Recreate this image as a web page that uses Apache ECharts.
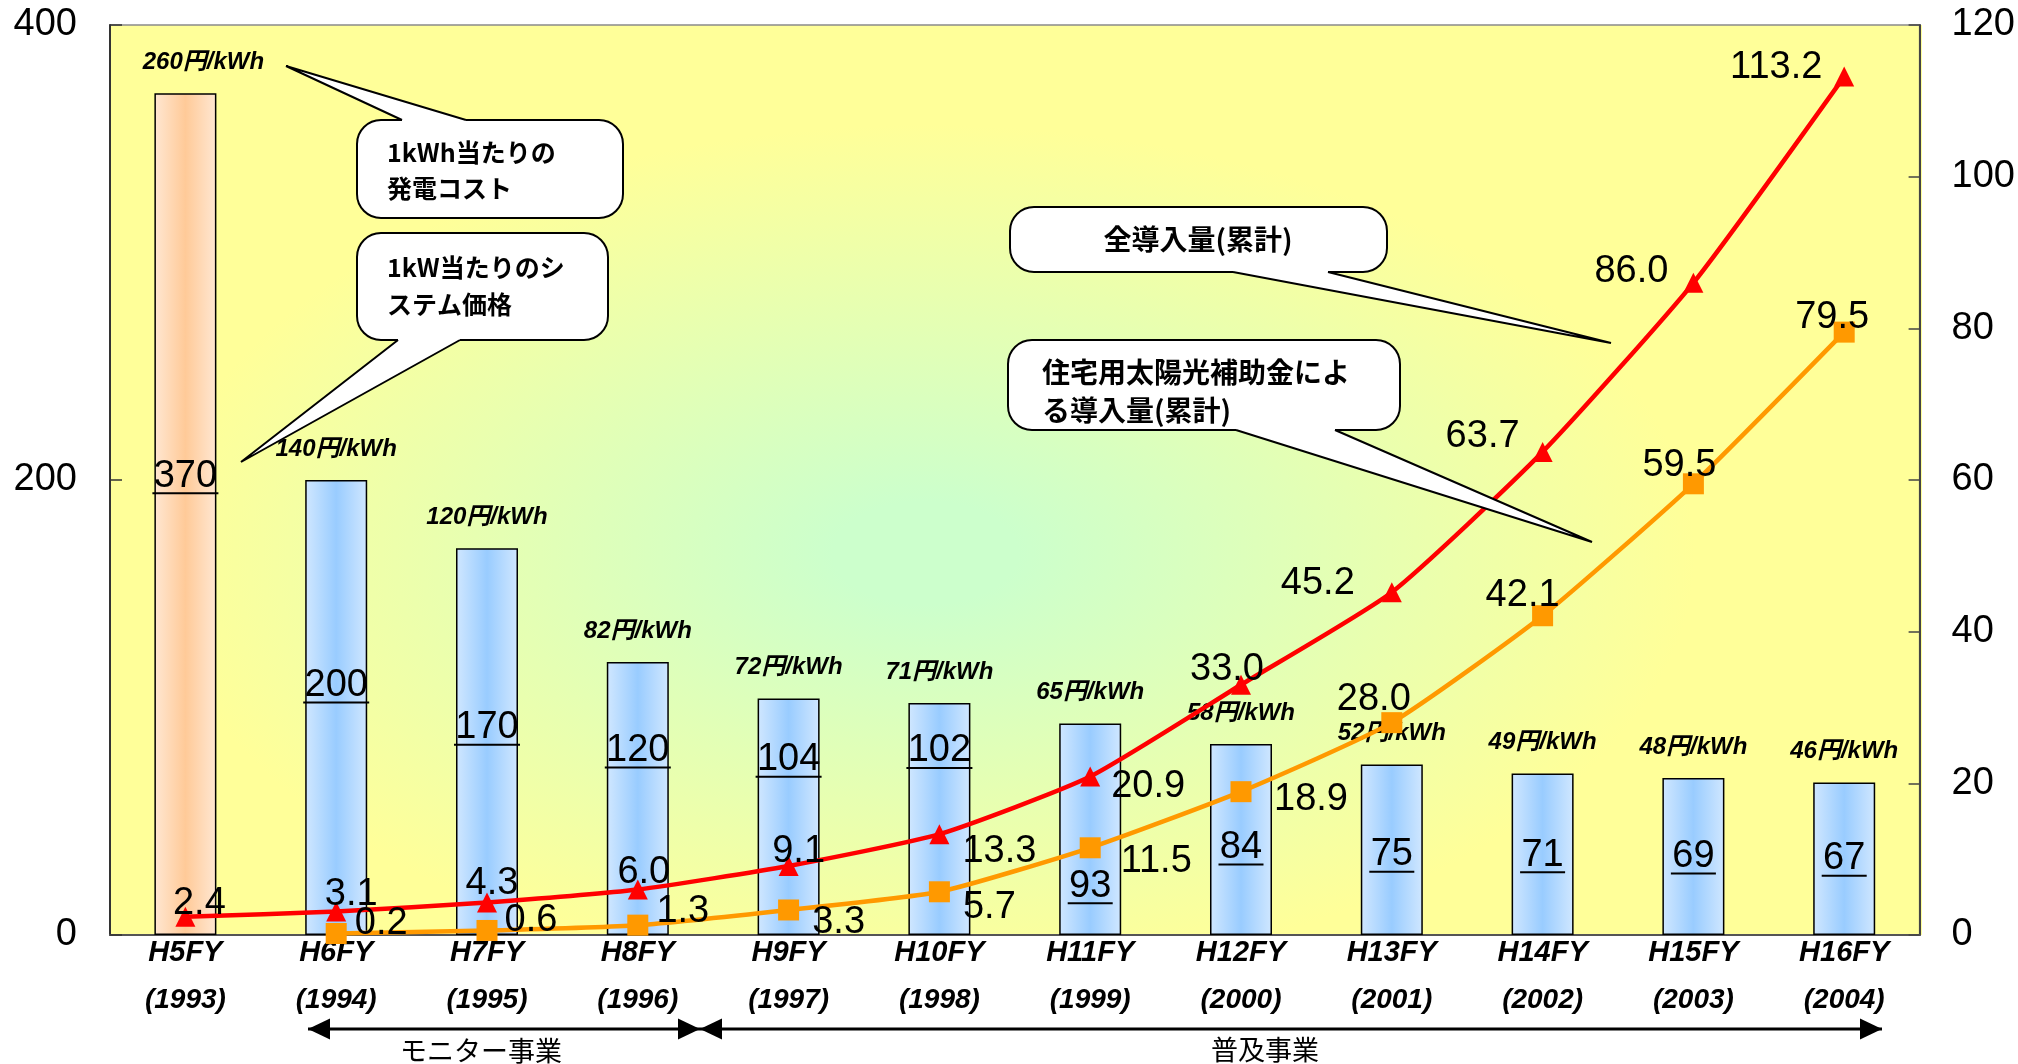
<!DOCTYPE html>
<html><head><meta charset="utf-8">
<script src="https://cdn.jsdelivr.net/npm/echarts@6/dist/echarts.min.js"></script>
<style>html,body{margin:0;padding:0;background:#fff}#c{width:2018px;height:1064px}</style>
</head><body><div id="c"></div>
<script>
// ---- data ----
const categories = ['H5FY','H6FY','H7FY','H8FY','H9FY','H10FY','H11FY','H12FY','H13FY','H14FY','H15FY','H16FY'];
const years = ['1993','1994','1995','1996','1997','1998','1999','2000','2001','2002','2003','2004'];
const systemPrice = [370,200,170,120,104,102,93,84,75,71,69,67];          // 1kW当たりのシステム価格
const generationCost = [260,140,120,82,72,71,65,58,52,49,48,46];          // 1kWh当たりの発電コスト (円/kWh)
const totalInstalled = [2.4,3.1,4.3,6.0,9.1,13.3,20.9,33.0,45.2,63.7,86.0,113.2]; // 全導入量(累計)
const subsidyInstalled = [null,0.2,0.6,1.3,3.3,5.7,11.5,18.9,28.0,42.1,59.5,79.5]; // 補助金による導入量(累計)
const leftAxis = {min:0, max:400, interval:200};
const rightAxis = {min:0, max:120, interval:20};

// ---- label placement (style only) ----
const priceLabelDy = [-37,-21,-13,-47,-56,-67,58,9,6,2,1,1];
const totalLabelOffset = [[14,-13],[15,-17],[5,-19],[6,-17],[10,-14],[60,17],[58,10],[-14,-15],[-74,-9],[-60,-15],[-62,-11],[-68,-9]];
const subsidyLabelOffset = [null,[45,-10],[44,-10],[45,-14],[50,13],[50,16],[66,14],[70,8],[-18,-23],[-20,-20],[-14,-18],[-12,-15]];

const NUM = '"Liberation Sans", Arial, sans-serif';
const JP = '"Noto Sans CJK JP", sans-serif';

const grid = {left:110, top:25, width:1812, height:910};

function hGrad(edge, mid){
  return {type:'linear', x:0, y:0, x2:1, y2:0, colorStops:[
    {offset:0, color:edge},{offset:0.5, color:mid},{offset:1, color:edge}]};
}

const barData = systemPrice.map((v,i)=>({
  value:v,
  itemStyle:{color: i===0 ? hGrad('#FFE7D2','#FFCA98') : hGrad('#D0E7FF','#99CCFF')},
  label:{offset:[0, priceLabelDy[i]]}
}));
const costData = systemPrice.map((v,i)=>({value:v, label:{offset:[i===0?18:0, 0]}}));
const totalData = totalInstalled.map((v,i)=>({value:v, label:{offset: totalLabelOffset[i]}}));
const subsidyData = subsidyInstalled.map((v,i)=> v===null ? '-' : ({value:v, label:{offset: subsidyLabelOffset[i]}}));

// ---- graphic annotations ----
const els = [];
// plot background (elliptical from-center gradient)
const sx = 1.8;
els.push({type:'rect', z:-10, silent:true, x:grid.left, y:grid.top, scaleX:sx,
  shape:{x:0, y:0, width:grid.width/sx, height:grid.height},
  style:{fill:{type:'radial', x:0.45, y:0.58, r:0.47, colorStops:[
    {offset:0, color:'#CCFFCC'},{offset:0.12, color:'#CCFFCC'},{offset:1, color:'#FFFF99'}]}}});

function callout(b, base, tip, lines, font){
  const [x,y,w,h] = b;
  const edgeY = base[0][1];
  const into = (Math.abs(edgeY - y) < 2) ? 4 : -4;
  els.push({type:'rect', z:100, silent:true, shape:{x, y, width:w, height:h, r:24}, style:{fill:'#fff', stroke:'#000', lineWidth:2}});
  els.push({type:'polygon', z:101, silent:true, shape:{points:[[base[0][0], edgeY+into], base[0], tip, base[1], [base[1][0], edgeY+into]]}, style:{fill:'#fff'}});
  els.push({type:'polyline', z:102, silent:true, shape:{points:[base[0], tip, base[1]]}, style:{stroke:'#000', lineWidth:2, fill:null}});
  lines.forEach(t => els.push({type:'text', z:103, silent:true, style:{text:t[0], x:t[1], y:t[2], font, fill:'#000', align:t[3]||'left', verticalAlign:'middle'}}));
}
callout([357,120,266,98], [[402,120],[466,120]], [286,66], [['1kWh当たりの',387,152],['発電コスト',387,188]], 'bold 25px ' + JP);
callout([357,233,251,107], [[398,340],[460,340]], [241,462], [['1kW当たりのシ',387,267],['ステム価格',387,304]], 'bold 25px ' + JP);
callout([1010,207,377,65], [[1233,272],[1328,272]], [1611,343], [['全導入量(累計)',1198,239,'center']], 'bold 28px ' + JP);
callout([1008,340,392,90], [[1236,430],[1335,430]], [1592,542], [['住宅用太陽光補助金によ',1042,372],['る導入量(累計)',1042,410]], 'bold 28px ' + JP);

// bottom arrows
function arrow(x1, x2, y){
  els.push({type:'line', z:50, silent:true, shape:{x1, y1:y, x2, y2:y}, style:{stroke:'#000', lineWidth:3}});
  els.push({type:'polygon', z:51, silent:true, shape:{points:[[x1,y],[x1+22,y-10.5],[x1+22,y+10.5]]}, style:{fill:'#000'}});
  els.push({type:'polygon', z:51, silent:true, shape:{points:[[x2,y],[x2-22,y-10.5],[x2-22,y+10.5]]}, style:{fill:'#000'}});
}
arrow(308, 700, 1029);
arrow(700, 1882, 1029);
els.push({type:'text', z:50, silent:true, style:{text:'モニター事業', x:481, y:1051, font:'27px ' + JP, fill:'#000', align:'center', verticalAlign:'middle'}});
els.push({type:'text', z:50, silent:true, style:{text:'普及事業', x:1265, y:1050, font:'27px ' + JP, fill:'#000', align:'center', verticalAlign:'middle'}});

const chart = echarts.init(document.getElementById('c'));
chart.setOption({
  animation:false,
  backgroundColor:'#fff',
  grid:{left:grid.left, top:grid.top, width:grid.width, height:grid.height, show:true, borderColor:'#8a8a8a', borderWidth:1.5, backgroundColor:'transparent'},
  xAxis:{type:'category', data:categories, boundaryGap:true,
    axisLine:{lineStyle:{color:'#555', width:2}}, axisTick:{show:false},
    axisLabel:{interval:0, margin:2, formatter:(v,i)=>'{a|'+v+'}\n{b|('+years[i]+')}',
      rich:{a:{fontFamily:NUM, fontSize:29, fontWeight:'bold', fontStyle:'italic', color:'#000', lineHeight:32},
            b:{fontFamily:NUM, fontSize:28, fontWeight:'bold', fontStyle:'italic', color:'#000', lineHeight:62}}}},
  yAxis:[
    {type:'value', min:leftAxis.min, max:leftAxis.max, interval:leftAxis.interval, position:'left',
      axisLine:{show:true, lineStyle:{color:'#333', width:2}}, axisTick:{show:true, inside:true, length:12, lineStyle:{color:'#333', width:1.5}},
      splitLine:{show:false}, axisLabel:{margin:33, fontFamily:NUM, fontSize:38, color:'#000'}},
    {type:'value', min:rightAxis.min, max:rightAxis.max, interval:rightAxis.interval, position:'right',
      axisLine:{show:true, lineStyle:{color:'#444', width:2}}, axisTick:{show:true, inside:true, length:11, lineStyle:{color:'#444', width:1.5}},
      splitLine:{show:false}, axisLabel:{margin:32, fontFamily:NUM, fontSize:38, color:'#000'}}
  ],
  graphic:{elements:els},
  series:[
    {type:'bar', name:'システム価格', data:barData, barWidth:62, barGap:'-100%', silent:true,
      itemStyle:{borderColor:'#000', borderWidth:1.5},
      label:{show:true, position:'inside', color:'#000',
        formatter:p=>'{n|'+p.value+'}\n{u'+String(p.value).length+'|}',
        rich:{n:{fontFamily:NUM, fontSize:38, lineHeight:32, color:'#000'},
              u2:{width:45, height:2, lineHeight:2, backgroundColor:'#000'},
              u3:{width:66, height:2, lineHeight:2, backgroundColor:'#000'}}}},
    {type:'bar', name:'発電コスト', data:costData, barWidth:62, barGap:'-100%', silent:true,
      itemStyle:{color:'rgba(0,0,0,0)', borderWidth:0},
      label:{show:true, position:'top', distance:19, lineHeight:24,
        formatter:p=>generationCost[p.dataIndex]+'円/kWh',
        fontFamily:'"Liberation Sans", "Noto Sans CJK JP", sans-serif', fontSize:24, fontWeight:'bold', fontStyle:'italic', color:'#000'}},
    {type:'line', name:'全導入量(累計)', yAxisIndex:1, data:totalData, smooth:0.18, silent:true,
      symbol:'triangle', symbolSize:20, lineStyle:{color:'#FF0000', width:4.5}, itemStyle:{color:'#FF0000'},
      label:{show:true, position:'inside', formatter:p=>Number(p.value).toFixed(1), fontFamily:NUM, fontSize:38, color:'#000'}},
    {type:'line', name:'補助金による導入量(累計)', yAxisIndex:1, data:subsidyData, smooth:0.18, silent:true,
      symbol:'rect', symbolSize:21, lineStyle:{color:'#FF9900', width:4.5}, itemStyle:{color:'#FF9900'},
      label:{show:true, position:'inside', formatter:p=>Number(p.value).toFixed(1), fontFamily:NUM, fontSize:38, color:'#000'}}
  ]
});
</script></body></html>
